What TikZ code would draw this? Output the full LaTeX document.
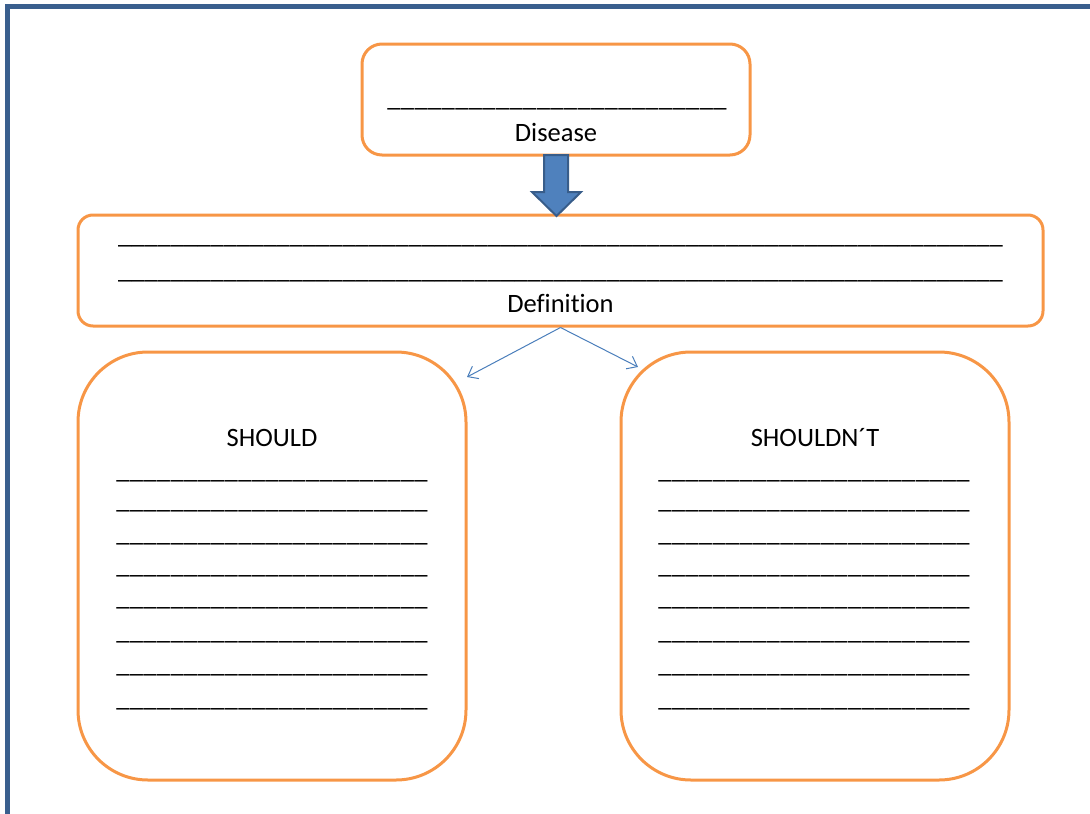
\documentclass[tikz,border=0pt]{standalone}
\usepackage{fontspec}
\setmainfont[Ligatures=NoCommon]{Carlito}
\usetikzlibrary{arrows.meta}
\definecolor{boxorange}{HTML}{F79646}
\definecolor{pageblue}{HTML}{3A5F8E}
\definecolor{arrowfill}{HTML}{4F81BD}
\definecolor{arrowline}{HTML}{385D8A}
\definecolor{thinblue}{HTML}{4A7EBB}
\newcommand\blankline[1]{\hbox to #1{\xleaders\hbox{\_}\hfill}}
\begin{document}
\begin{tikzpicture}[x=1pt,y=-1pt,
  box/.style={draw=boxorange,line width=3pt,rounded corners=#1,inner sep=0pt},
  txt/.style={anchor=base,inner sep=0pt,font=\fontsize{26.5}{30}\selectfont},
  thinarrow/.style={draw=thinblue,line width=1pt,-{Straight Barb[length=9pt,width=14pt]}}]
\useasboundingbox (0,0) rectangle (1090,814);
% page border
\draw[pageblue,line width=5pt] (7.5,830) -- (7.5,6.5) -- (1100,6.5);
% boxes
\node[box=20pt,minimum width=388pt,minimum height=111pt] (top) at (556,99.5) {};
\node[box=15pt,minimum width=965pt,minimum height=111pt] (def) at (560.5,270.5) {};
\node[box=70pt,minimum width=388pt,minimum height=428pt] (left) at (272,566) {};
\node[box=70pt,minimum width=388pt,minimum height=428pt] (right) at (815,566) {};
% top box text
\node[txt] (tl) at (557,106) {\blankline{340pt}};
\node[txt] (dis) at (556,141) {Disease};
% definition text
\node[txt] (d1) at (560.5,243) {\blankline{885pt}};
\node[txt] (d2) at (560.5,278) {\blankline{885pt}};
\node[txt] (dlab) at (560.5,312) {Definition};
% left / right
\node[txt] (sh) at (272,446) {SHOULD};
\node[txt] (shn) at (815,446) {SHOULDN\char"00B4T};
\foreach \i/\yy in {1/482,2/512,3/545,4/577,5/609,6/643,7/676,8/710}{
  \node[txt] (l\i) at (272,\yy-4) {\blankline{312pt}};
  \node[txt] (r\i) at (814,\yy-4) {\blankline{312pt}};
}
% block arrow
\draw[fill=arrowfill,draw=arrowline,line width=2pt,line join=miter]
  (544,155) -- (568,155) -- (568,192) -- (581,192) -- (556.5,216) -- (532,192) -- (544,192) -- cycle;
% thin arrows
\coordinate (la) at (467,377);
\coordinate (ra) at (638,367);
\draw[thinarrow] (def.south) -- (la);
\draw[thinarrow] (def.south) -- (ra);
\end{tikzpicture}
\end{document}
